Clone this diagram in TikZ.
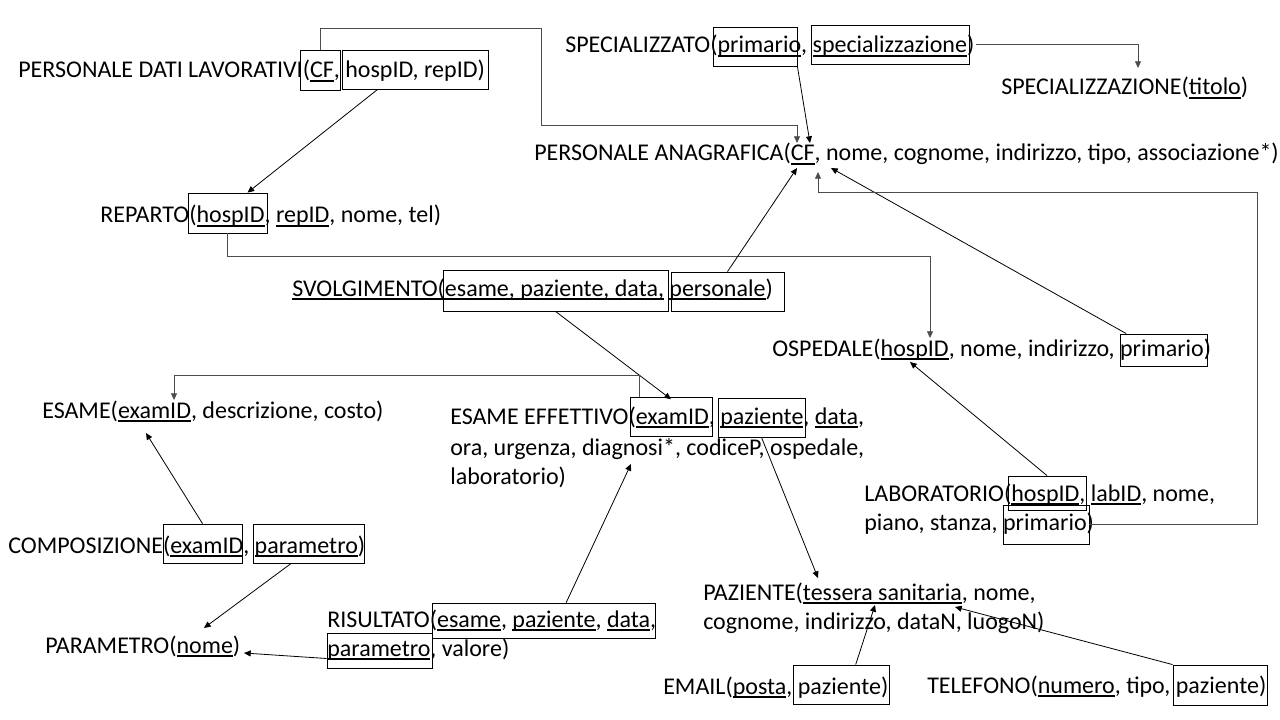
\documentclass[tikz,border=0pt]{standalone}
\usepackage{fontspec}
\setmainfont{Carlito}
\usetikzlibrary{arrows.meta,fit,positioning}

\newcommand{\ukey}[1]{\sbox0{#1}\rlap{\rule[-2.8pt]{\wd0}{1.5pt}}\usebox0}

\tikzset{
  rel/.style={anchor=base west, inner sep=0pt, font=\fontsize{18}{22}\selectfont},
  fk/.style={draw, inner sep=0pt, line width=0.6pt},
  fkarrow/.style={-{Triangle[length=5pt,width=4.5pt]}, line width=0.6pt},
  fkpath/.style={fkarrow, draw=black!70}
}

\begin{document}
\begin{tikzpicture}[x=0.75pt, y=-0.75pt]
\useasboundingbox (0,0) rectangle (1280,720);
% relazioni
\node[rel] (pdl) at (18,78) {PERSONALE DATI LAVORATIVI(\ukey{CF}, hospID, repID)};
\node[rel] (sp) at (565,53) {SPECIALIZZATO(\ukey{primario}, \ukey{specializzazione})};
\node[rel] (sz) at (1001,95) {SPECIALIZZAZIONE(\ukey{titolo})};
\node[rel] (pa) at (534,161) {PERSONALE ANAGRAFICA(\ukey{CF}, nome, cognome, indirizzo, tipo, associazione*)};
\node[rel] (rep) at (100,223) {REPARTO(\ukey{hospID}, \ukey{repID}, nome, tel)};
\node[rel] (sv) at (292,296) {\ukey{SVOLGIMENTO(esame, paziente, data,} \ukey{personale})};
\node[rel] (osp) at (772,356) {OSPEDALE(\ukey{hospID}, nome, indirizzo, primario)};
\node[rel] (es) at (42,418) {ESAME(\ukey{examID}, descrizione, costo)};
\node[rel] (eeA) at (450,424) {ESAME EFFETTIVO(\ukey{examID}, \ukey{paziente}, \ukey{data},};
\node[rel] (eeB) at (450,455) {ora, urgenza, diagnosi*, codiceP, ospedale,};
\node[rel] (eeC) at (450,484) {laboratorio)};
\node[rel] (labA) at (864,501) {LABORATORIO(\ukey{hospID}, \ukey{labID}, nome,};
\node[rel] (labB) at (864,530) {piano, stanza, primario)};
\node[rel] (comp) at (8,553) {COMPOSIZIONE(\ukey{examID}, \ukey{parametro})};
\node[rel] (pazA) at (703,600) {PAZIENTE(\ukey{tessera sanitaria}, nome,};
\node[rel] (pazB) at (703,629) {cognome, indirizzo, dataN, luogoN)};
\node[rel] (risA) at (327,627) {RISULTATO(\ukey{esame}, \ukey{paziente}, \ukey{data},};
\node[rel] (risB) at (327,656) {\ukey{parametro}, valore)};
\node[rel] (par) at (45,653) {PARAMETRO(\ukey{nome})};
\node[rel] (em) at (663,694) {EMAIL(\ukey{posta}, paziente)};
\node[rel] (tel) at (927,693) {TELEFONO(\ukey{numero}, tipo, paziente)};
% chiavi esterne
\node[fk, fit={(300,50) (340,90)}] (pdlCF) {};
\node[fk, fit={(342,50) (488,89)}] (pdlRep) {};
\node[fk, fit={(713,27) (797,66)}] (spPrim) {};
\node[fk, fit={(811,25) (969,64)}] (spSpec) {};
\node[fk, fit={(188,193) (267,233)}] (repHosp) {};
\node[fk, fit={(443,270) (668,311)}] (svEs) {};
\node[fk, fit={(671,272) (784,311)}] (svPers) {};
\node[fk, fit={(1120,334) (1207,366)}] (ospPrim) {};
\node[fk, fit={(630,397) (712,436)}] (eeExam) {};
\node[fk, fit={(718,398) (805,437)}] (eePaz) {};
\node[fk, fit={(1008,476) (1086,510)}] (labHosp) {};
\node[fk, fit={(1003,505) (1089,544)}] (labPrim) {};
\node[fk, fit={(163,524) (242,563)}] (compExam) {};
\node[fk, fit={(253,524) (364,563)}] (compPar) {};
\node[fk, fit={(432,603) (655,638)}] (risEs) {};
\node[fk, fit={(327,633) (432,668)}] (risPar) {};
\node[fk, fit={(793,665) (889,704)}] (emPaz) {};
\node[fk, fit={(1173,665) (1267,705)}] (telPaz) {};
% punti di arrivo
\coordinate (paCF) at (797,143);
\coordinate (paCFb) at (810,143);
\coordinate (paCFc) at (797,168);
\coordinate (paCFd) at (818,172);
\coordinate (paNome) at (831,168);
\coordinate (szTit) at (1138,68);
\coordinate (ospHosp) at (930,338);
\coordinate (ospHospb) at (910,362);
\coordinate (esExam) at (174,400);
\coordinate (esExamb) at (146,433);
\coordinate (parNome) at (204,628);
\coordinate (parNomeb) at (244,653);
\coordinate (eeData) at (631,464);
\coordinate (pazTess) at (818,578);
\coordinate (pazTessb) at (875,605);
\coordinate (pazTessc) at (955,607);
% riferimenti
\draw[fkpath] (pdlCF.north) |- (541,28) -- (541,125) -| (paCF);
\draw[fkarrow] ([xshift=-28pt]pdlRep.south) -- ([xshift=15pt]repHosp.north);
\draw[fkpath] ([xshift=5pt]spSpec.east) -| (szTit);
\draw[fkarrow] (spPrim.south east) -- (paCFb);
\draw[fkpath] (repHosp.south) |- (930,256) -- (ospHosp);
\draw[fkarrow] (svPers.north) -- (paCFc);
\draw[fkarrow] (svEs.south) -- ([yshift=-2pt]eeExam.north);
\draw[fkarrow] ([xshift=5pt]ospPrim.north west) -- (paNome);
\draw[fkpath] ([xshift=7pt]eeExam.north west) -- ++(0,-21) -| (esExam);
\draw[fkarrow] (eePaz.south) -- (pazTess);
\draw[fkarrow] (labHosp.north) -- (ospHospb);
\draw[fkpath] (labPrim.east) -| (1257,192) -| (paCFd);
\draw[fkarrow] (compExam.north) -- (esExamb);
\draw[fkarrow] ([xshift=-13pt]compPar.south) -- (parNome);
\draw[fkarrow] ([yshift=-6pt]risPar.west) -- (parNomeb);
\draw[fkarrow] ([xshift=17pt]risEs.north) -- (eeData);
\draw[fkarrow] ([xshift=11pt]emPaz.north) -- (pazTessb);
\draw[fkarrow] (telPaz.north west) -- (pazTessc);
\end{tikzpicture}
\end{document}
